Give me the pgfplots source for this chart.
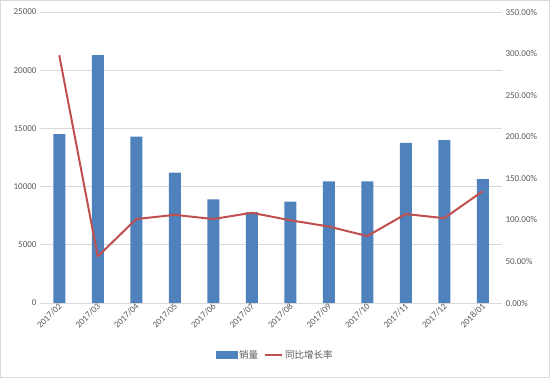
\documentclass[border=0pt]{standalone}
\usepackage{pgfplots}
\pgfplotsset{compat=1.18}
\usepackage{fontspec}
\setmainfont{Carlito}
\newfontfamily\cjk{Noto Sans CJK SC}
\definecolor{barblue}{HTML}{4F81BD}
\definecolor{linered}{HTML}{C0504D}
\definecolor{gridgray}{HTML}{D9D9D9}
\definecolor{txtgray}{HTML}{595959}
\begin{document}
\begin{tikzpicture}[x=1pt,y=1pt]
\useasboundingbox (0,0) rectangle (550,378);
\draw[gridgray] (0.5,0.5) rectangle (549.5,377.5);
\begin{axis}[at={(40pt,75pt)}, anchor=south west, scale only axis,
  width=462pt, height=291pt,
  xmin=-0.5, xmax=11.5, ymin=0, ymax=25000,
  ytick={0,5000,10000,15000,20000,25000},
  scaled y ticks=false,
  axis line style={draw=none},
  major tick length=0pt,
  ymajorgrids, grid style={gridgray, line width=0.8pt},
  yticklabel style={/pgf/number format/assume math mode=true,/pgf/number format/1000 sep={}, font=\fontsize{9}{10}\selectfont, text=txtgray},
  ytick align=outside,
  xtick={0,...,11},
  xticklabels={2017/02,2017/03,2017/04,2017/05,2017/06,2017/07,2017/08,2017/09,2017/10,2017/11,2017/12,2018/01},
  xticklabel style={rotate=45, anchor=east, font=\fontsize{9}{10}\selectfont, text=txtgray, xshift=3pt, yshift=-2pt},
  clip=false,
]
\addplot[ybar, bar width=12pt, fill=barblue, draw=none] coordinates {
(0,14500) (1,21300) (2,14300) (3,11200) (4,8900) (5,7800)
(6,8700) (7,10450) (8,10450) (9,13750) (10,14000) (11,10650)};
\end{axis}
\begin{axis}[at={(40pt,75pt)}, anchor=south west, scale only axis,
  width=462pt, height=291pt,
  xmin=-0.5, xmax=11.5, ymin=0, ymax=350,
  axis line style={draw=none},
  axis y line*=right,
  hide x axis,
  major tick length=0pt,
  ytick={0,50,...,350},
  yticklabel={\pgfmathprintnumber[fixed,fixed zerofill,precision=2,assume math mode=true]{\tick}\%},
  yticklabel style={font=\fontsize{9}{10}\selectfont, text=txtgray, anchor=west},
  legend style={at={(0.509,-0.179)}, anchor=center, draw=none, fill=none,
    legend columns=2, font=\cjk\fontsize{9.5}{11}\selectfont, text=txtgray,
    /tikz/every even column/.append style={column sep=4pt}},
  legend cell align=left,
]
\addlegendimage{legend image code/.code={\fill[barblue] (0pt,-3.5pt) rectangle (21pt,3.5pt);}}
\addlegendentry{销量}
\addplot[linered, line width=2pt, line join=round] coordinates {
(0,298) (1,56) (2,101) (3,106) (4,101) (5,108.5)
(6,99.5) (7,92) (8,80.5) (9,107) (10,102) (11,134.5)};
\addlegendentry{同比增长率}
\end{axis}
\end{tikzpicture}
\end{document}
